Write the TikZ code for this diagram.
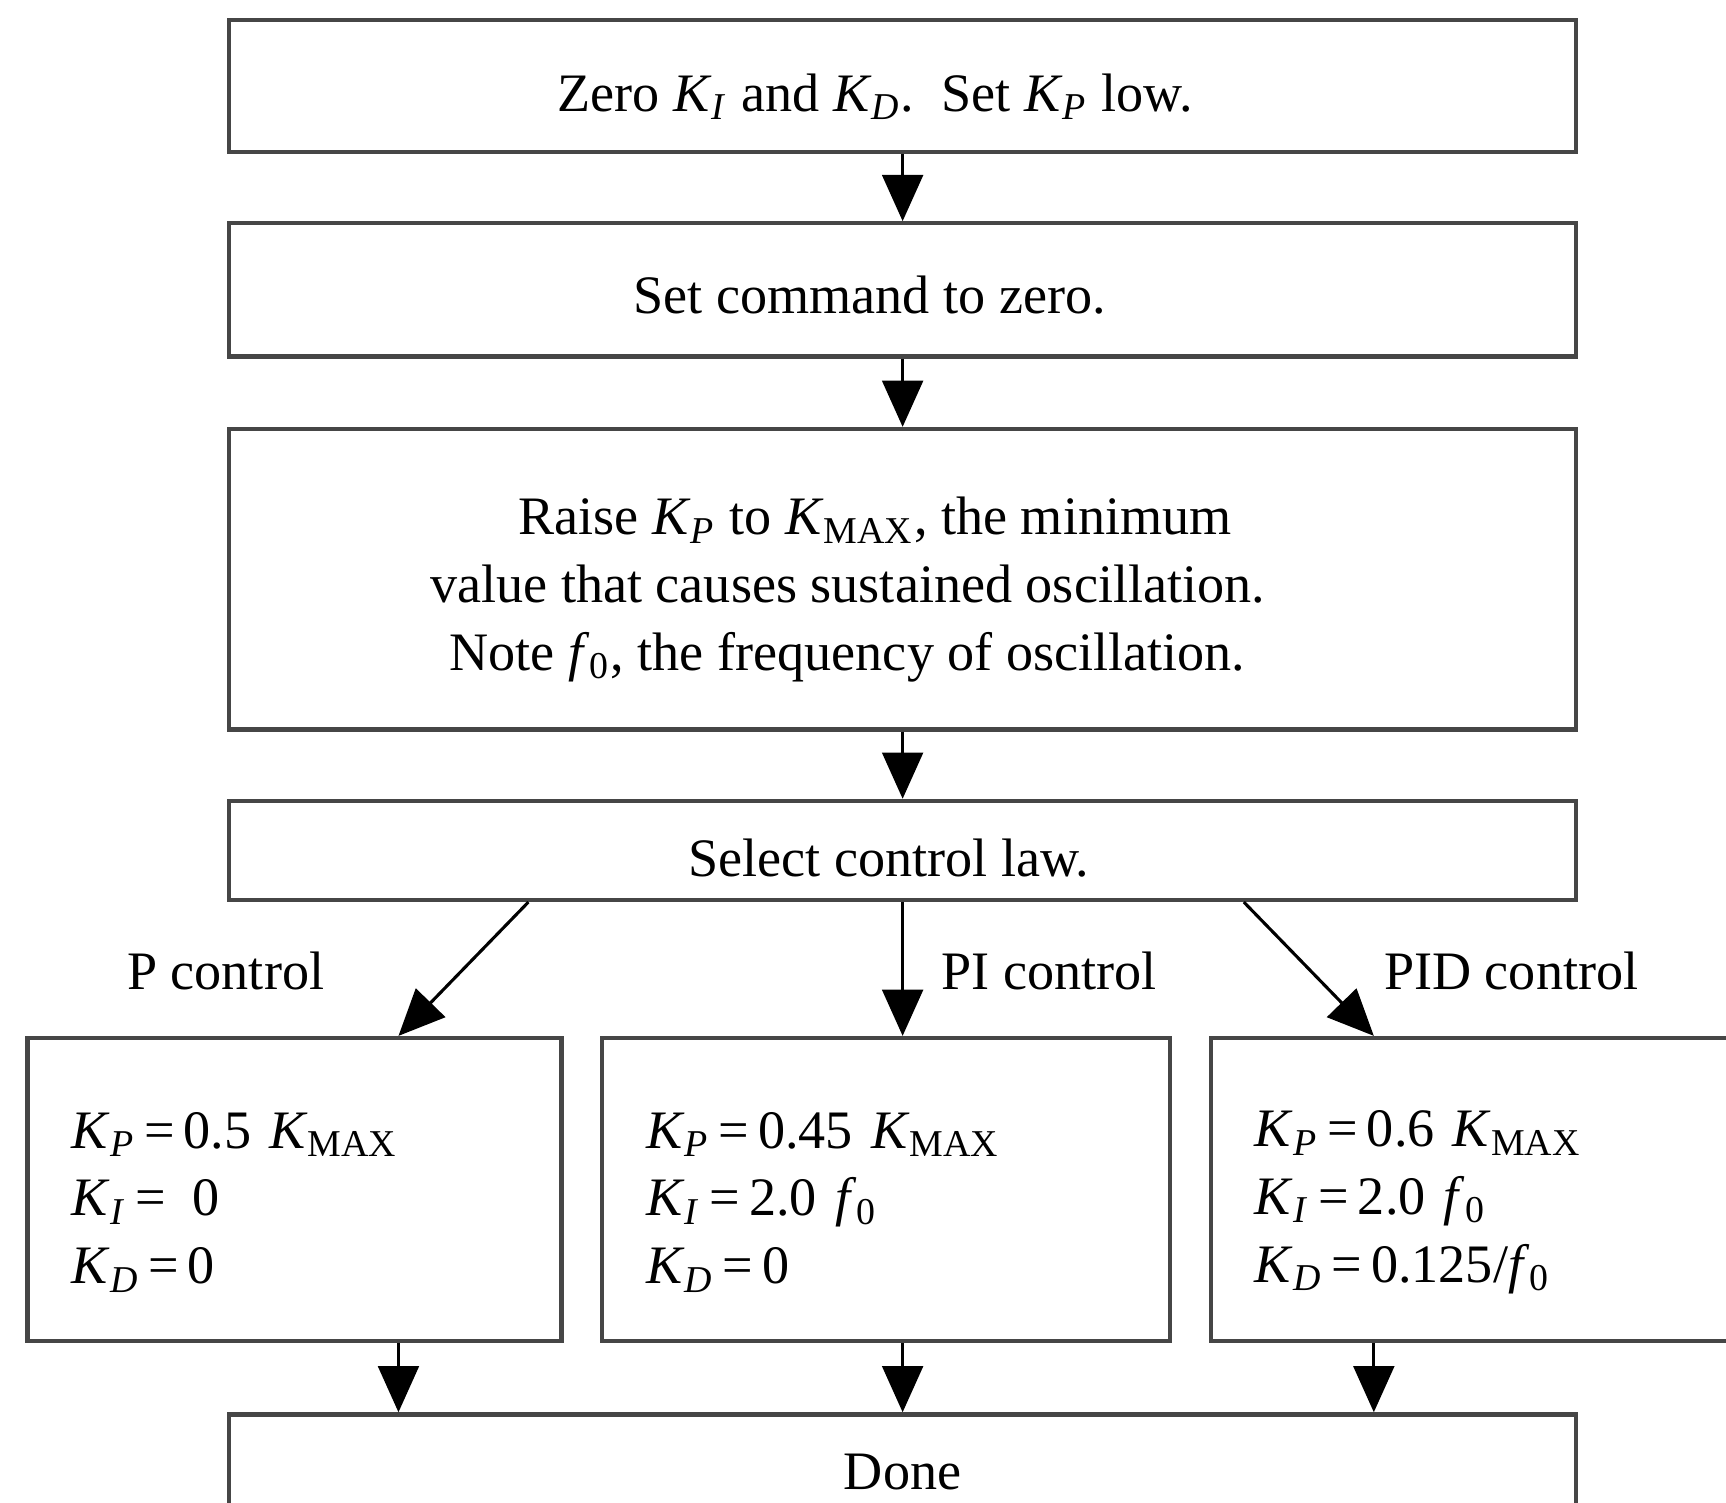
\documentclass[tikz,border=0pt]{standalone}
\usepackage{fontspec}
\setmainfont{Liberation Serif}
\usepackage{tikz}
\usetikzlibrary{arrows.meta}
\usetikzlibrary{positioning}
\usepackage{color}
\definecolor{edgegray}{RGB}{70, 70, 70}
\newcommand{\gain}[1]{\textit{K}\textsubscript{\textit{#1}}}
\newcommand{\gainmax}{\textit{K}\textsubscript{MAX}}
\newcommand{\fzero}{\textit{f}\textsubscript{0}}
\newcommand{\eqs}{\,=\,}
\newcommand{\padr}[1]{\rule{#1}{0pt}}

\begin{document}
\begin{tikzpicture}[x=0.1mm, y=-0.1mm,
        stepbox/.style={draw=edgegray, line width=1.1pt, minimum width=122.4mm, align=center,
                        font=\fontsize{14}{17.5}\selectfont},
        lawbox/.style={draw=edgegray, line width=1.1pt, inner xsep=4mm, align=left, text height=5.6mm,
                       minimum height=27.5mm, font=\fontsize{14}{17.5}\selectfont},
        lawlabel/.style={font=\fontsize{14}{17.5}\selectfont},
        flow/.style={line width=0.8pt, -{Triangle[length=4.2mm, width=3.7mm]}}]
            % Frame to fix the page:
            \useasboundingbox (0, 0) rectangle (1568, 1365);
            % Main chain
            \node[stepbox, minimum height=12.0mm, text height=5.4mm]                      (zero)   at (820, 78) {Zero \gain{I} and \gain{D}.\ \ Set \gain{P} low.\padr{5mm}};
            \node[stepbox, minimum height=12.1mm, text height=4.4mm, below=6.1mm of zero]  (cmd)    {Set command to zero.\padr{6mm}};
            \node[stepbox, minimum height=27.3mm, text height=17.6mm, below=6.2mm of cmd]  (raise)  {Raise \gain{P} to \gainmax, the minimum\padr{5mm}\\
                                                                                                      value that causes sustained oscillation.\padr{10mm}\\
                                                                                                      Note \fzero, the frequency of oscillation.\padr{10mm}};
            \node[stepbox, minimum height=9.0mm,  text height=4.8mm, below=6.1mm of raise] (select) {Select control law.\padr{2.5mm}};
            % Control laws
            \node[lawbox, text width=40.5mm] (pbox)   at ( 267.5, 1080.5) {\gain{P}\eqs 0.5 \gainmax\\ \gain{I}\eqs\ 0\\ \gain{D}\eqs 0};
            \node[lawbox, text width=43.6mm] (pibox)  at ( 805.0, 1080.5) {\gain{P}\eqs 0.45 \gainmax\\ \gain{I}\eqs 2.0 \fzero\\ \gain{D}\eqs 0};
            \node[lawbox, text width=42.0mm] (pidbox) at (1350.0, 1080.5) {\gain{P}\eqs 0.6 \gainmax\\ \gain{I}\eqs 2.0 \fzero\\ \gain{D}\eqs 0.125/\fzero};
            \node[lawlabel]              (plabel)   at ( 205, 882) {P control};
            \node[lawlabel, anchor=west] (pilabel)  at ( 843, 882) {PI control};
            \node[lawlabel, anchor=west] (pidlabel) at (1245, 882) {PID control};
            % Done
            \node[stepbox, minimum height=10.5mm, anchor=north] (done) at (820, 1283) {Done};
            % Arrows
            \draw[flow] (zero)   -- (cmd);
            \draw[flow] (cmd)    -- (raise);
            \draw[flow] (raise)  -- (select);
            \draw[flow] ([xshift=-34mm]select.south) -- ([xshift=9.45mm]pbox.north);
            \draw[flow] (select.south)               -- (select.south |- pibox.north);
            \draw[flow] ([xshift=31mm]select.south)  -- ([xshift=15mm]pidbox.north west);
            \draw[flow] ([xshift=9.45mm]pbox.south)      -- ([xshift=9.45mm]pbox.south |- done.north);
            \draw[flow] (done.north |- pibox.south)      -- (done.north);
            \draw[flow] ([xshift=15mm]pidbox.south west) -- ([xshift=15mm]pidbox.south west |- done.north);
        \end{tikzpicture}
\end{document}
